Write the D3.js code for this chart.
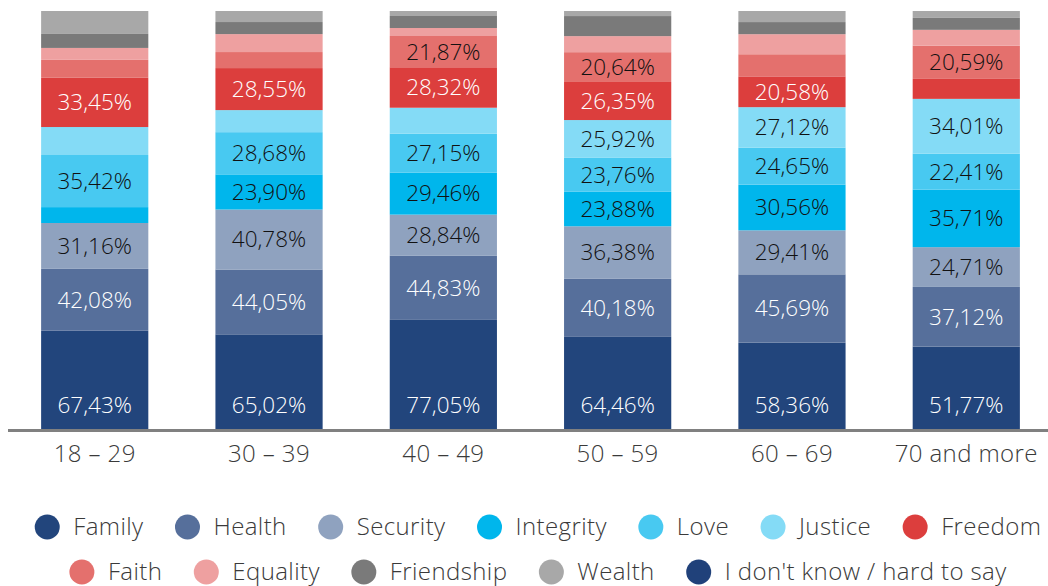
<!DOCTYPE html>
<html>
<head>
<meta charset="utf-8">
<script src="https://cdn.jsdelivr.net/npm/d3@7/dist/d3.min.js"></script>
<style>
  html, body { margin: 0; padding: 0; background: #fff; }
  svg { display: block; font-family: "Open Sans", "Lato", sans-serif; font-weight: 300; }
</style>
</head>
<body>
<svg id="chart" width="1048" height="586"></svg>
<script>
// Age groups
const categories = ["18 – 29", "30 – 39", "40 – 49", "50 – 59", "60 – 69", "70 and more"];

// Share of respondents naming each value, % per age group
const family     = [67.43, 65.02, 77.05, 64.46, 58.36, 51.77];
const health     = [42.08, 44.05, 44.83, 40.18, 45.69, 37.12];
const security   = [31.16, 40.78, 28.84, 36.38, 29.41, 24.71];
const integrity  = [10.8, 23.90, 29.46, 23.88, 30.56, 35.71];
const love       = [35.42, 28.68, 27.15, 23.76, 24.65, 22.41];
const justice    = [19.0, 15.0, 18.2, 25.92, 27.12, 34.01];
const freedom    = [33.45, 28.55, 28.32, 26.35, 20.58, 12.4];
const faith      = [12.2, 10.9, 21.87, 20.64, 14.8, 20.59];
const equality   = [8.1, 12.2, 5.6, 11.1, 13.4, 9.9];
const friendship = [9.5, 8.2, 8.4, 13.9, 8.1, 7.4];
const wealth     = [15.6, 7.5, 3.5, 3.5, 7.4, 4.3];
const unsure     = [0, 0, 0, 0, 0, 0];

const seriesNames = ["Family", "Health", "Security", "Integrity", "Love", "Justice",
                     "Freedom", "Faith", "Equality", "Friendship", "Wealth",
                     "I don't know / hard to say"];
const seriesValues = [family, health, security, integrity, love, justice,
                      freedom, faith, equality, friendship, wealth, unsure];
const seriesColors = ["#22457c", "#566f9b", "#8fa2bf", "#00b6ec", "#48c9f1", "#84dbf6",
                      "#dc3e3d", "#e4706d", "#eea0a0", "#7a7a7a", "#a8a8a8", "#20417a"];
const labelInk = ["#fff", "#fff", "#111", "#111", "#111", "#111",
                  "#fff", "#111", "#111", "#111", "#111", "#fff"];

const formatPct = v => v.toFixed(2).replace(".", ",") + "%";

// Table: one row per age group, one column per value
const rows = categories.map((c, i) => {
  const r = { category: c };
  seriesNames.forEach((s, k) => { r[s] = seriesValues[k][i]; });
  return r;
});

const stacked = d3.stack()
  .keys(seriesNames)
  .offset(d3.stackOffsetExpand)(rows);

const svg = d3.select("#chart");
const baseY = 430;

const x = d3.scaleBand()
  .domain(categories)
  .range([8, 1053])
  .paddingInner(0.385)
  .paddingOuter(0.19);

const y = d3.scaleLinear().domain([0, 1]).range([baseY, 11]);

// Stacked bars
const layers = svg.append("g").selectAll("g")
  .data(stacked)
  .join("g")
  .attr("fill", (d, i) => seriesColors[i]);

layers.selectAll("rect")
  .data(d => d)
  .join("rect")
  .attr("x", d => x(d.data.category))
  .attr("width", x.bandwidth())
  .attr("y", d => y(d[1]))
  .attr("height", d => Math.max(0, y(d[0]) - y(d[1])));

// Value labels for the larger segments
const labels = svg.append("g")
  .attr("font-size", 22.5)
  .attr("font-weight", 350)
  .attr("text-anchor", "middle");

stacked.forEach((layer, k) => {
  layer.forEach(d => {
    const v = d.data[layer.key];
    if (v < 20) return;
    const cy = k === 0 ? baseY - 25 : (y(d[0]) + y(d[1])) / 2;
    labels.append("text")
      .attr("x", x(d.data.category) + x.bandwidth() / 2)
      .attr("y", cy)
      .attr("dy", "0.35em")
      .attr("fill", labelInk[k])
      .text(formatPct(v));
  });
});

// Baseline
svg.append("line")
  .attr("x1", 8).attr("x2", 1048)
  .attr("y1", baseY + 0.5).attr("y2", baseY + 0.5)
  .attr("stroke", "#808080")
  .attr("stroke-width", 3);

// Category axis labels
const xAxis = d3.axisBottom(x).tickSize(0).tickPadding(15);
const gx = svg.append("g")
  .attr("transform", `translate(0,${baseY})`)
  .call(xAxis);
gx.select(".domain").remove();
gx.selectAll("text")
  .attr("font-size", 24)
  .attr("font-family", "\"Open Sans\", \"Lato\", sans-serif")
  .attr("font-weight", 300)
  .attr("letter-spacing", 0.4)
  .attr("fill", "#3a3a3a");

// Legend, two centred rows
const legendRows = [[0, 1, 2, 3, 4, 5, 6], [7, 8, 9, 10, 11]];
const legendY = [527, 572];
const r = 12.5, textGap = 26, itemGap = 44;

legendRows.forEach((idxs, row) => {
  const g = svg.append("g");
  let cx = 0;
  idxs.forEach(k => {
    g.append("circle")
      .attr("cx", cx).attr("cy", legendY[row])
      .attr("r", r)
      .attr("fill", seriesColors[k]);
    const t = g.append("text")
      .attr("x", cx + textGap)
      .attr("y", legendY[row])
      .attr("dy", "0.35em")
      .attr("font-size", 24)
      .attr("letter-spacing", 0.4)
      .attr("fill", "#3a3a3a")
      .text(seriesNames[k]);
    cx += textGap + t.node().getComputedTextLength() + itemGap;
  });
  const total = cx - itemGap + r;
  g.attr("transform", `translate(${538 - total / 2 + r},0)`);
});
</script>
</body>
</html>
